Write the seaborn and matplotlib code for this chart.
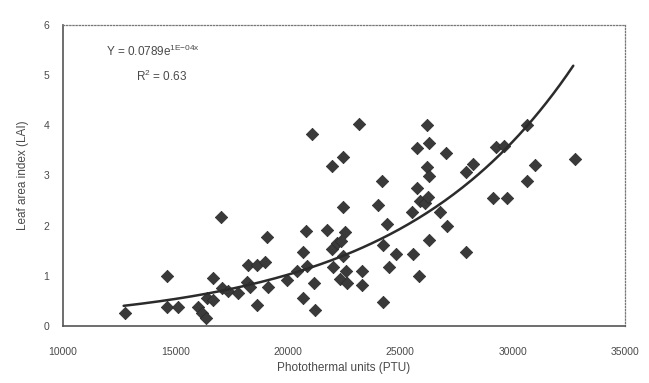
import numpy as np
import pandas as pd
import matplotlib
matplotlib.use('Agg')
import matplotlib.pyplot as plt
import seaborn as sns

ptu = [12760, 14630, 14630, 15120, 16000, 16180, 16360, 16670, 16400, 16670,
       17030, 17070, 17340, 17780, 18190, 18320, 18630, 18230, 18630, 18990,
       19070, 19120, 19960, 20400, 20850, 20680, 20800, 21080, 21160, 20680,
       21200, 21740, 21970, 21970, 22010, 22460, 22460, 22540, 22190, 22370,
       22460, 22590, 23300, 22320, 22630, 23300, 23170, 24230, 24190, 24010,
       24410, 24230, 24810, 24500, 26190, 25750, 26280, 27040, 26190, 26280,
       25750, 25880, 26100, 26240, 25530, 26770, 27080, 25570, 26280, 27930,
       25840, 30640, 29260, 29620, 27930, 28240, 31000, 32780, 30640, 29130,
       29750]
lai = [0.25, 1.00, 0.38, 0.37, 0.37, 0.26, 0.16, 0.96, 0.56, 0.52,
       2.18, 0.75, 0.69, 0.65, 0.88, 0.78, 0.42, 1.22, 1.22, 1.28,
       1.77, 0.78, 0.91, 1.10, 1.19, 1.47, 1.89, 3.82, 0.86, 0.56,
       0.32, 1.92, 3.18, 1.54, 1.18, 3.37, 2.37, 1.87, 1.66, 1.70,
       1.40, 1.10, 1.10, 0.93, 0.86, 0.82, 4.02, 0.47, 2.88, 2.42,
       2.04, 1.62, 1.44, 1.17, 4.01, 3.55, 3.64, 3.45, 3.16, 2.98,
       2.74, 2.50, 2.46, 2.56, 2.27, 2.28, 2.00, 1.43, 1.71, 1.47,
       0.99, 4.01, 3.57, 3.59, 3.06, 3.22, 3.21, 3.32, 2.88, 2.55,
       2.55]

# exponential trendline y = a * exp(k * x)
fit_a = 0.0789
fit_k = 0.000128
fit_start, fit_end = 12700, 32700

df = pd.DataFrame({'PTU': ptu, 'LAI': lai})
trend_x = np.linspace(fit_start, fit_end, 200)
trend = pd.DataFrame({'PTU': trend_x, 'LAI': fit_a * np.exp(fit_k * trend_x)})

sns.set_style('white')
plt.rcParams['font.family'] = ['Liberation Sans', 'DejaVu Sans']
txt = '#4a4a4a'

fig = plt.figure(figsize=(6.49, 3.83), dpi=100)
ax = fig.add_axes([0.097, 0.149, 0.866, 0.786])

sns.scatterplot(data=df, x='PTU', y='LAI', marker='D', s=40, color='#3a3a3a',
                edgecolor='#2a2a2a', linewidth=0.5, ax=ax, zorder=3)
sns.lineplot(data=trend, x='PTU', y='LAI', color='#2b2b2b', linewidth=1.8, ax=ax, zorder=4)

ax.set_xlim(10000, 35000)
ax.set_ylim(0, 6)
ax.set_xticks(range(10000, 35001, 5000))
ax.set_yticks(range(0, 7))

for side in ['top', 'right']:
    ax.spines[side].set_linestyle((0, (1, 1.5)))
    ax.spines[side].set_color('#777777')
    ax.spines[side].set_linewidth(0.9)
for side in ['left', 'bottom']:
    ax.spines[side].set_color('#555555')
    ax.spines[side].set_linewidth(1.2)

ax.tick_params(axis='y', direction='out', length=4, width=0.8, color='#777777',
               labelsize=7.5, labelcolor=txt, pad=6)
ax.tick_params(axis='x', direction='inout', length=6, width=0.8, color='#777777',
               labelsize=7.5, labelcolor=txt, pad=12)

ax.set_xlabel('Photothermal units (PTU)', fontsize=8.5, color=txt, labelpad=4)
ax.set_ylabel('Leaf area index (LAI)', fontsize=8.5, color=txt, labelpad=10)

ax.text(11900, 5.47, r'Y = 0.0789e$^{\mathregular{1E{-}04x}}$', fontsize=8.5, color=txt, va='center')
ax.text(13250, 4.97, r'R$^{\mathregular{2}}$ = 0.63', fontsize=8.5, color=txt, va='center')

fig.savefig('out.png', dpi=100)
